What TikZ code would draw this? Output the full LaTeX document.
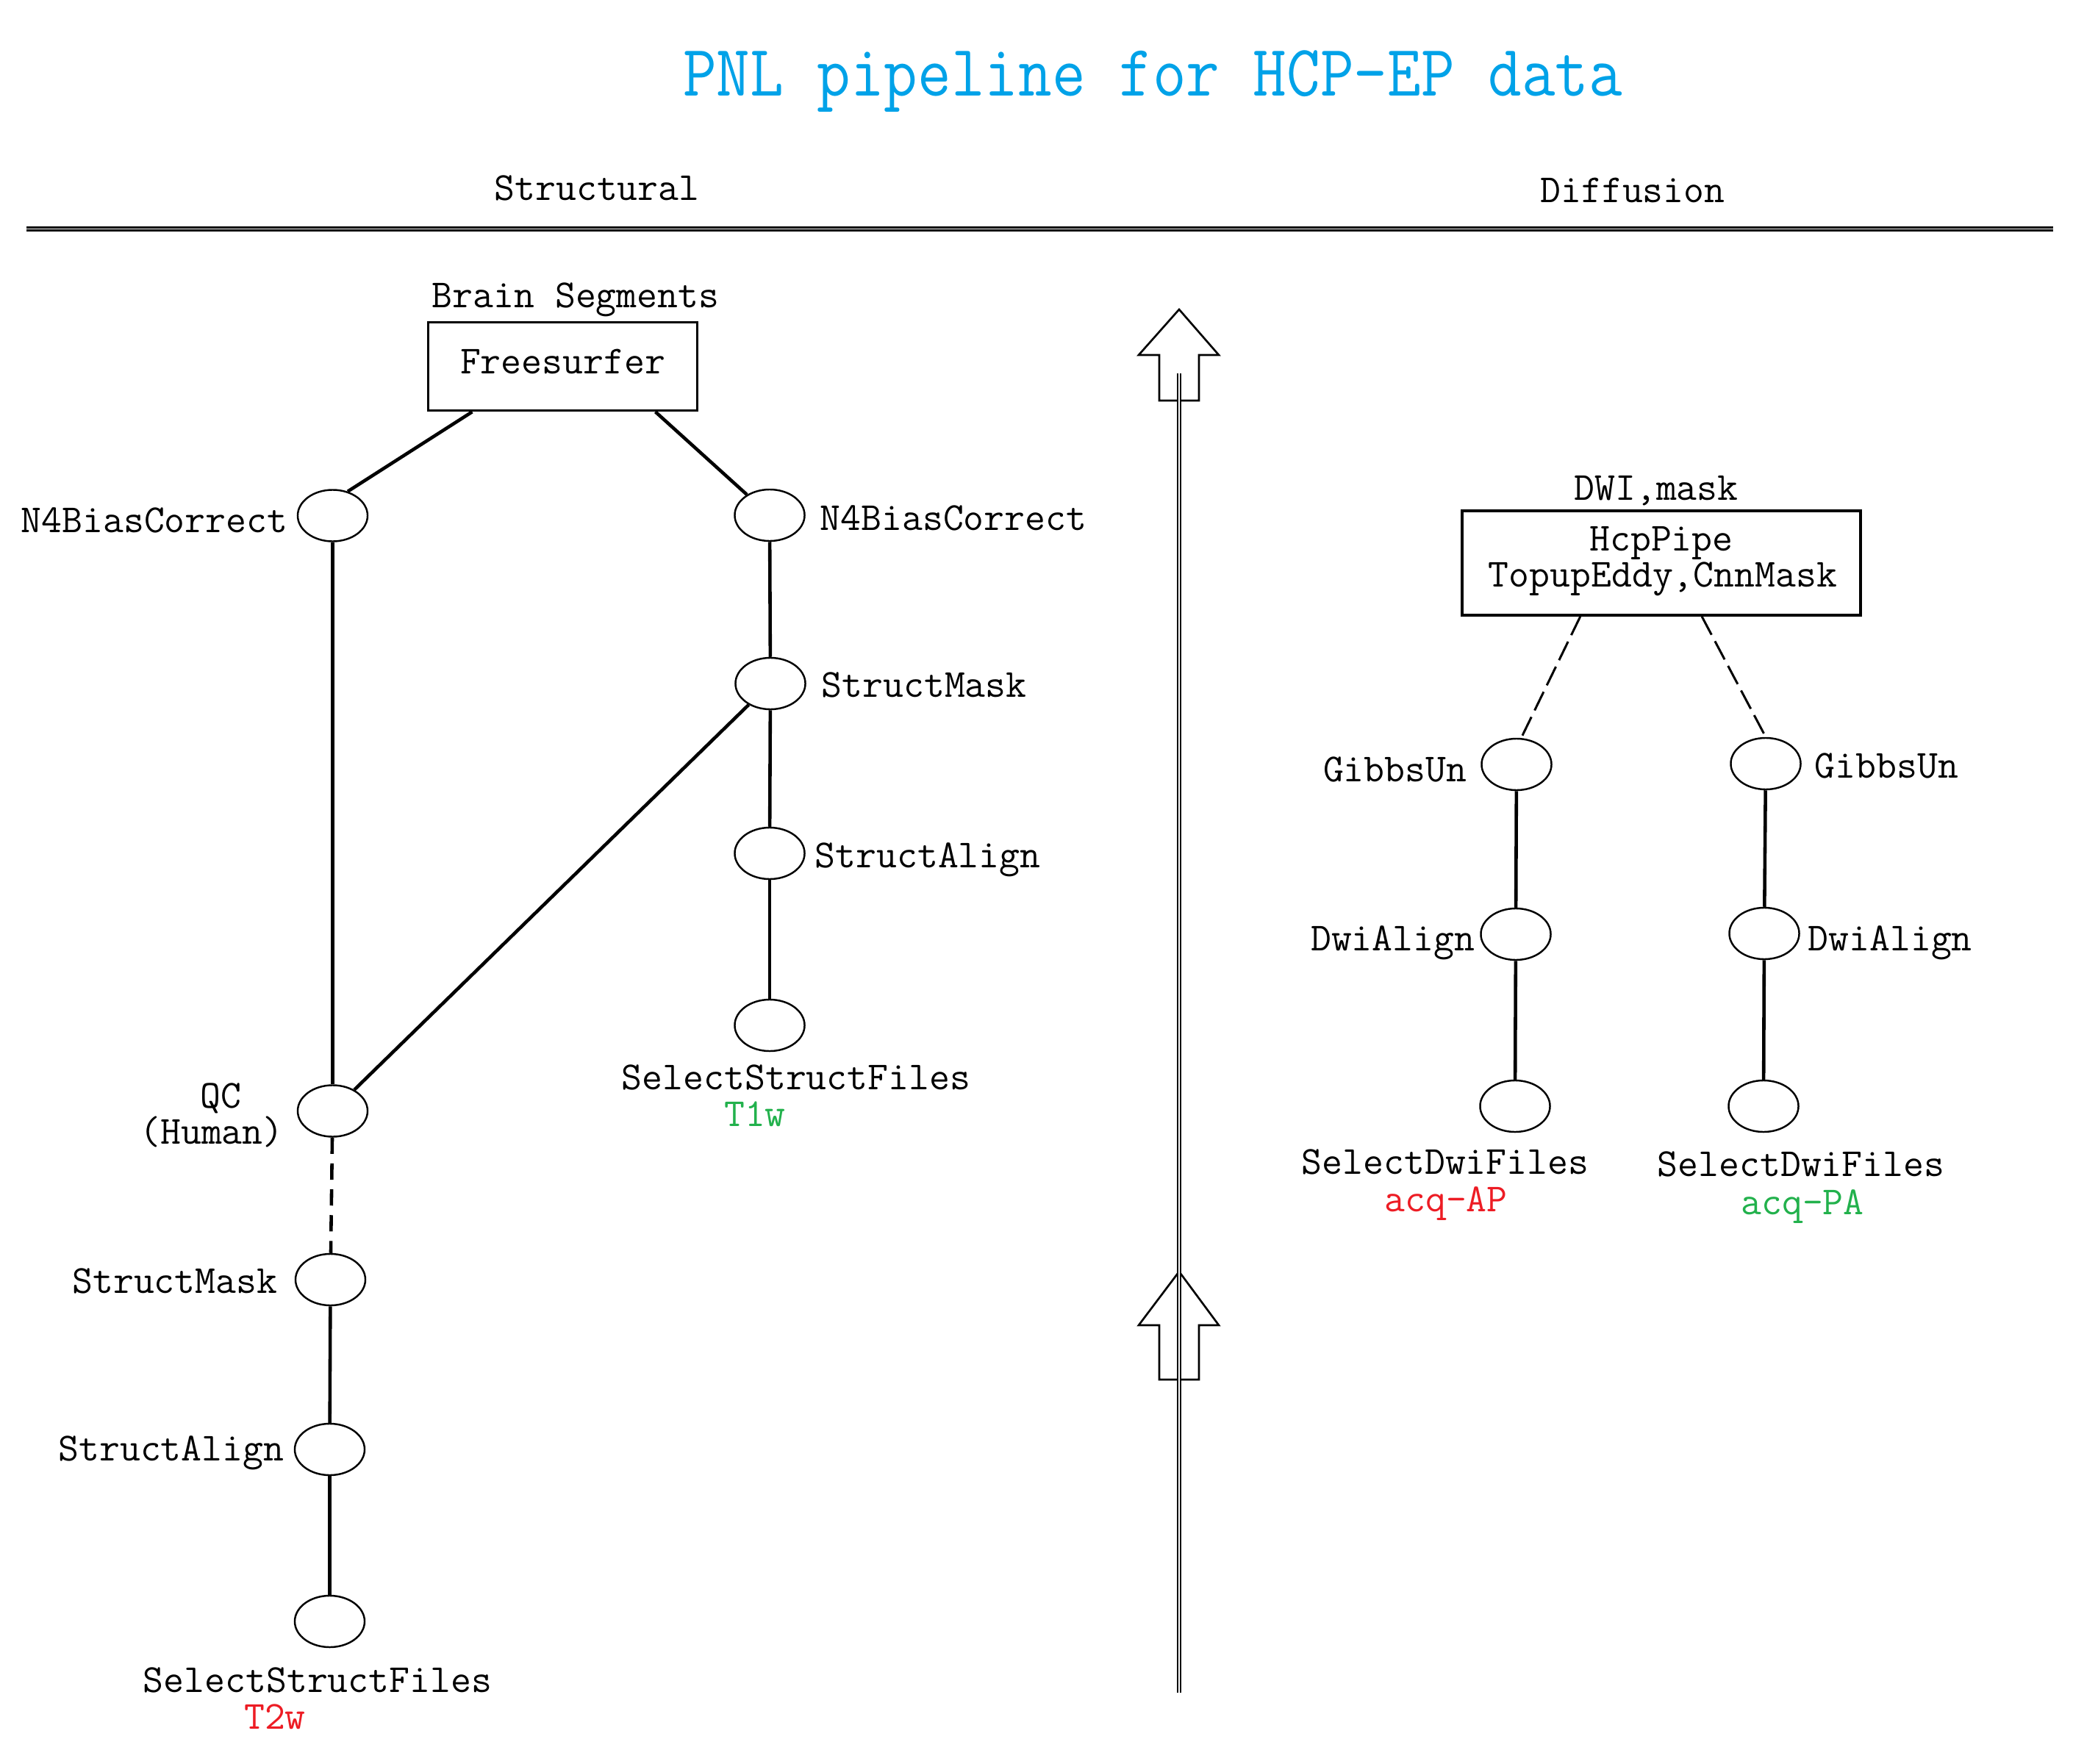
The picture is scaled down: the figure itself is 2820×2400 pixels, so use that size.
\documentclass[tikz,border=0pt]{standalone}
\usepackage{fontspec}
\usepackage{graphicx}
\usetikzlibrary{shapes.geometric,calc}
\definecolor{titleblue}{RGB}{0,162,232}
\definecolor{pred}{RGB}{237,28,36}
\definecolor{pgreen}{RGB}{34,177,76}
\begin{document}
\begin{tikzpicture}[x=0.01cm,y=-0.01cm,
  txt/.style={inner sep=0pt, font=\ttfamily\fontsize{15.4pt}{18pt}\selectfont},
  proc/.style={ellipse, draw, line width=0.7pt, minimum width=0.95cm, minimum height=0.70cm, inner sep=0pt},
  boxnode/.style={rectangle, draw, line width=1pt, inner sep=0pt},
  conn/.style={line width=1.3pt},
  qcdash/.style={line width=1.3pt, dash pattern=on 6.3pt off 3.7pt},
  thindash/.style={line width=0.85pt, dash pattern=on 8pt off 2.8pt},
  blockarrow/.style={line width=0.75pt, line join=miter},
  vdiv/.style={double, line width=0.6pt, double distance=0.57pt},
  hdiv/.style={double, line width=0.81pt, double distance=0.46pt}
]
\useasboundingbox[fill=white] (0,0) rectangle (2820,2400);

% title and header
\node[inner sep=0pt, anchor=base, text=titleblue, font=\ttfamily\fontsize{25.2pt}{30pt}\selectfont] (title) at (1568,131) {\scalebox{1}[1.12]{PNL pipeline for HCP-EP data}};
\node[txt, anchor=base] (hstruct) at (812,273) {Structural};
\node[txt, anchor=base] (hdiff) at (2221,275) {Diffusion};
\coordinate (hl) at (36,311.5);
\coordinate (hr) at (2793,311.5);
\draw[hdiv] (hl) -- (hr);

% central divider with block arrows
\draw[blockarrow] (1604,421) -- (1658,483) -- (1631,483) -- (1631,545) -- (1577,545) -- (1577,483) -- (1549,483) -- cycle;
\draw[blockarrow] (1604,1730) -- (1658,1803) -- (1631,1803) -- (1631,1877) -- (1577,1877) -- (1577,1803) -- (1549,1803) -- cycle;
\coordinate (vt) at (1604,508);
\coordinate (vb) at (1604,2303);
\draw[vdiv] (vt) -- (vb);

% structural: boxes and nodes
\node[txt, anchor=base] (bseg) at (783,418) {Brain Segments};
\node[boxnode, txt, minimum width=3.66cm, minimum height=1.20cm, text height=0.31cm, text depth=0.12cm] (fs) at (765.5,498.5) {Freesurfer};

\node[proc] (n4l) at (452.5,701.5) {};
\node[proc] (qc)  at (452.5,1511.5) {};
\node[proc] (sml) at (449.5,1741) {};
\node[proc] (sal) at (448.5,1972) {};
\node[proc] (ssl) at (448.5,2206) {};

\node[proc] (n4r) at (1047,701) {};
\node[proc] (smr) at (1048,930) {};
\node[proc] (sar) at (1047,1161) {};
\node[proc] (ssr) at (1047,1395) {};

\node[txt, anchor=base east] (ln4l) at (392,724) {N4BiasCorrect};
\node[txt, anchor=base] (lqc) at (300,1507) {QC};
\node[txt, anchor=base] (lhum) at (288,1556) {(Human)};
\node[txt, anchor=base east] (lsml) at (378,1759) {StructMask};
\node[txt, anchor=base east] (lsal) at (387,1987) {StructAlign};
\node[txt, anchor=base] (lssl) at (432,2302) {SelectStructFiles};
\node[txt, anchor=base, text=pred] (lt2) at (374,2352) {T2w};

\node[txt, anchor=base west] (ln4r) at (1115,721) {N4BiasCorrect};
\node[txt, anchor=base west] (lsmr) at (1117,948) {StructMask};
\node[txt, anchor=base west] (lsar) at (1108,1180) {StructAlign};
\node[txt, anchor=base] (lssr) at (1083,1482) {SelectStructFiles};
\node[txt, anchor=base, text=pgreen] (lt1) at (1027,1532) {T1w};

\coordinate (fsl) at ($(fs.south west)!0.167!(fs.south east)$);
\coordinate (fsr) at ($(fs.south west)!0.841!(fs.south east)$);
\draw[conn] (fsl) -- (n4l.58);
\draw[conn] (fsr) -- (n4r);
\draw[conn] (n4l) -- (qc);
\draw[conn] (n4r) -- (smr);
\draw[conn] (smr) -- (sar);
\draw[conn] (sar) -- (ssr);
\draw[conn] (smr) -- (qc);
\draw[qcdash] (qc) -- (sml);
\draw[conn] (sml) -- (sal);
\draw[conn] (sal) -- (ssl);

% diffusion
\node[txt, anchor=base] (ldwi) at (2253,680) {DWI,mask};
\node[boxnode, minimum width=5.42cm, minimum height=1.42cm] (hcp) at (2260,766) {};
\node[txt, anchor=base] (hcpa) at (2260,749) {HcpPipe};
\node[txt, anchor=base] (hcpb) at (2262,798) {TopupEddy,CnnMask};

\node[proc] (gl) at (2063,1040) {};
\node[proc] (dl) at (2062,1271) {};
\node[proc] (sdl) at (2061,1505) {};
\node[proc] (gr) at (2402,1039) {};
\node[proc] (dr) at (2400,1270) {};
\node[proc] (sdr) at (2399,1505) {};

\node[txt, anchor=base east] (lgl) at (1996,1063) {GibbsUn};
\node[txt, anchor=base east] (ldl) at (2007,1293) {DwiAlign};
\node[txt, anchor=base] (lsdl) at (1966,1597) {SelectDwiFiles};
\node[txt, anchor=base, text=pred] (lap) at (1967,1648) {acq-AP};
\node[txt, anchor=base west] (lgr) at (2468,1058) {GibbsUn};
\node[txt, anchor=base west] (ldr) at (2459,1293) {DwiAlign};
\node[txt, anchor=base] (lsdr) at (2450,1600) {SelectDwiFiles};
\node[txt, anchor=base, text=pgreen] (lpa) at (2452,1652) {acq-PA};

\coordinate (hcpl) at ($(hcp.south west)!0.298!(hcp.south east)$);
\coordinate (hcpr) at ($(hcp.south west)!0.601!(hcp.south east)$);
\draw[thindash] (hcpl) -- (gl.80);
\draw[thindash] (hcpr) -- (gr.north);
\draw[conn] (gl) -- (dl);
\draw[conn] (dl) -- (sdl);
\draw[conn] (gr) -- (dr);
\draw[conn] (dr) -- (sdr);
\end{tikzpicture}
\end{document}
